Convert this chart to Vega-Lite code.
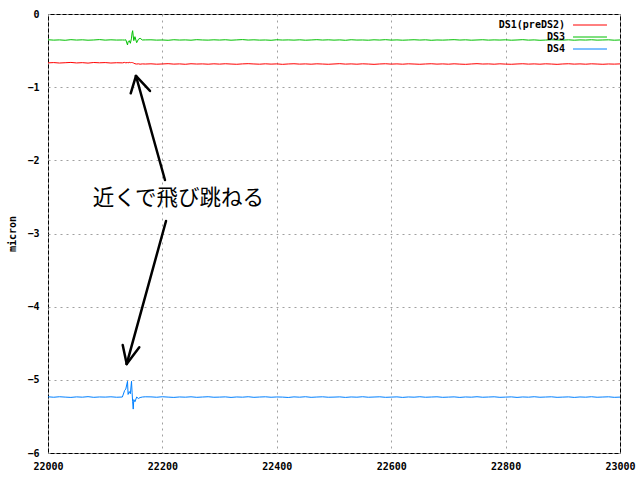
{
  "$schema": "https://vega.github.io/schema/vega-lite/v6.json",
  "width": 572,
  "height": 439,
  "autosize": {"type": "none"},
  "padding": {"left": 48, "top": 14, "right": 20, "bottom": 27},
  "background": "white",
  "config": {
    "view": {"stroke": "black", "strokeWidth": 1},
    "axis": {
      "labelFont": "DejaVu Sans Mono", "labelFontWeight": "bold", "labelFontSize": 10, "labelColor": "black",
      "titleFont": "DejaVu Sans Mono", "titleFontWeight": "bold", "titleFontSize": 10, "titleColor": "black",
      "gridColor": "#a0a0a0", "gridDash": [2, 4], "gridOpacity": 1, "gridWidth": 1,
      "domain": false, "ticks": false, "labelFlush": false, "labelOverlap": false, "labelBound": false
    }
  },
  "datasets": {
    "series": [
      {"x": 22000, "DS1(preDS2)": -0.668, "DS3": -0.352, "DS4": -5.232},
      {"x": 22010, "DS1(preDS2)": -0.664, "DS3": -0.357, "DS4": -5.238},
      {"x": 22020, "DS1(preDS2)": -0.670, "DS3": -0.354, "DS4": -5.231},
      {"x": 22030, "DS1(preDS2)": -0.666, "DS3": -0.359, "DS4": -5.236},
      {"x": 22040, "DS1(preDS2)": -0.662, "DS3": -0.351, "DS4": -5.240},
      {"x": 22050, "DS1(preDS2)": -0.669, "DS3": -0.356, "DS4": -5.233},
      {"x": 22060, "DS1(preDS2)": -0.665, "DS3": -0.353, "DS4": -5.237},
      {"x": 22070, "DS1(preDS2)": -0.671, "DS3": -0.358, "DS4": -5.230},
      {"x": 22080, "DS1(preDS2)": -0.663, "DS3": -0.355, "DS4": -5.239},
      {"x": 22090, "DS1(preDS2)": -0.667, "DS3": -0.350, "DS4": -5.234},
      {"x": 22100, "DS1(preDS2)": -0.664, "DS3": -0.357, "DS4": -5.236},
      {"x": 22110, "DS1(preDS2)": -0.670, "DS3": -0.353, "DS4": -5.232},
      {"x": 22120, "DS1(preDS2)": -0.666, "DS3": -0.356, "DS4": -5.238},
      {"x": 22130, "DS1(preDS2)": -0.668, "DS3": -0.355, "DS4": -5.235},
      {"x": 22134, "DS1(preDS2)": -0.662, "DS3": -0.356, "DS4": -5.145},
      {"x": 22136, "DS1(preDS2)": -0.667, "DS3": -0.352, "DS4": -5.126},
      {"x": 22139, "DS1(preDS2)": -0.664, "DS3": -0.423, "DS4": -5.02},
      {"x": 22140, "DS1(preDS2)": -0.668, "DS3": -0.38, "DS4": -5.20},
      {"x": 22142, "DS1(preDS2)": -0.661, "DS3": -0.364, "DS4": -5.16},
      {"x": 22144, "DS1(preDS2)": -0.665, "DS3": -0.40, "DS4": -5.19},
      {"x": 22146, "DS1(preDS2)": -0.663, "DS3": -0.33, "DS4": -5.02},
      {"x": 22147, "DS1(preDS2)": -0.667, "DS3": -0.26, "DS4": -5.17},
      {"x": 22148, "DS1(preDS2)": -0.664, "DS3": -0.228, "DS4": -5.30},
      {"x": 22149, "DS1(preDS2)": -0.668, "DS3": -0.30, "DS4": -5.40},
      {"x": 22150, "DS1(preDS2)": -0.672, "DS3": -0.364, "DS4": -5.27},
      {"x": 22152, "DS1(preDS2)": -0.680, "DS3": -0.31, "DS4": -5.30},
      {"x": 22155, "DS1(preDS2)": -0.684, "DS3": -0.392, "DS4": -5.235},
      {"x": 22158, "DS1(preDS2)": -0.681, "DS3": -0.346, "DS4": -5.255},
      {"x": 22161, "DS1(preDS2)": -0.686, "DS3": -0.332, "DS4": -5.242},
      {"x": 22165, "DS1(preDS2)": -0.682, "DS3": -0.355, "DS4": -5.235},
      {"x": 22170, "DS1(preDS2)": -0.684, "DS3": -0.354, "DS4": -5.232},
      {"x": 22180, "DS1(preDS2)": -0.681, "DS3": -0.353, "DS4": -5.233},
      {"x": 22190, "DS1(preDS2)": -0.686, "DS3": -0.357, "DS4": -5.238},
      {"x": 22200, "DS1(preDS2)": -0.683, "DS3": -0.355, "DS4": -5.231},
      {"x": 22210, "DS1(preDS2)": -0.679, "DS3": -0.359, "DS4": -5.236},
      {"x": 22220, "DS1(preDS2)": -0.685, "DS3": -0.352, "DS4": -5.240},
      {"x": 22230, "DS1(preDS2)": -0.682, "DS3": -0.356, "DS4": -5.234},
      {"x": 22240, "DS1(preDS2)": -0.687, "DS3": -0.354, "DS4": -5.237},
      {"x": 22250, "DS1(preDS2)": -0.680, "DS3": -0.358, "DS4": -5.232},
      {"x": 22260, "DS1(preDS2)": -0.684, "DS3": -0.351, "DS4": -5.239},
      {"x": 22270, "DS1(preDS2)": -0.682, "DS3": -0.355, "DS4": -5.235},
      {"x": 22280, "DS1(preDS2)": -0.686, "DS3": -0.357, "DS4": -5.231},
      {"x": 22290, "DS1(preDS2)": -0.681, "DS3": -0.353, "DS4": -5.238},
      {"x": 22300, "DS1(preDS2)": -0.685, "DS3": -0.356, "DS4": -5.236},
      {"x": 22310, "DS1(preDS2)": -0.680, "DS3": -0.352, "DS4": -5.233},
      {"x": 22320, "DS1(preDS2)": -0.684, "DS3": -0.358, "DS4": -5.240},
      {"x": 22330, "DS1(preDS2)": -0.687, "DS3": -0.354, "DS4": -5.234},
      {"x": 22340, "DS1(preDS2)": -0.682, "DS3": -0.350, "DS4": -5.237},
      {"x": 22350, "DS1(preDS2)": -0.679, "DS3": -0.356, "DS4": -5.231},
      {"x": 22360, "DS1(preDS2)": -0.683, "DS3": -0.353, "DS4": -5.239},
      {"x": 22370, "DS1(preDS2)": -0.686, "DS3": -0.357, "DS4": -5.235},
      {"x": 22380, "DS1(preDS2)": -0.681, "DS3": -0.355, "DS4": -5.232},
      {"x": 22390, "DS1(preDS2)": -0.685, "DS3": -0.359, "DS4": -5.238},
      {"x": 22400, "DS1(preDS2)": -0.682, "DS3": -0.352, "DS4": -5.234},
      {"x": 22410, "DS1(preDS2)": -0.688, "DS3": -0.356, "DS4": -5.236},
      {"x": 22420, "DS1(preDS2)": -0.683, "DS3": -0.354, "DS4": -5.241},
      {"x": 22430, "DS1(preDS2)": -0.680, "DS3": -0.357, "DS4": -5.233},
      {"x": 22440, "DS1(preDS2)": -0.685, "DS3": -0.353, "DS4": -5.237},
      {"x": 22450, "DS1(preDS2)": -0.682, "DS3": -0.358, "DS4": -5.231},
      {"x": 22460, "DS1(preDS2)": -0.686, "DS3": -0.355, "DS4": -5.239},
      {"x": 22470, "DS1(preDS2)": -0.681, "DS3": -0.351, "DS4": -5.235},
      {"x": 22480, "DS1(preDS2)": -0.684, "DS3": -0.356, "DS4": -5.232},
      {"x": 22490, "DS1(preDS2)": -0.687, "DS3": -0.353, "DS4": -5.238},
      {"x": 22500, "DS1(preDS2)": -0.683, "DS3": -0.357, "DS4": -5.236},
      {"x": 22510, "DS1(preDS2)": -0.679, "DS3": -0.354, "DS4": -5.233},
      {"x": 22520, "DS1(preDS2)": -0.685, "DS3": -0.359, "DS4": -5.240},
      {"x": 22530, "DS1(preDS2)": -0.682, "DS3": -0.352, "DS4": -5.234},
      {"x": 22540, "DS1(preDS2)": -0.686, "DS3": -0.356, "DS4": -5.237},
      {"x": 22550, "DS1(preDS2)": -0.681, "DS3": -0.355, "DS4": -5.231},
      {"x": 22560, "DS1(preDS2)": -0.684, "DS3": -0.358, "DS4": -5.238},
      {"x": 22570, "DS1(preDS2)": -0.688, "DS3": -0.353, "DS4": -5.235},
      {"x": 22580, "DS1(preDS2)": -0.683, "DS3": -0.356, "DS4": -5.232},
      {"x": 22590, "DS1(preDS2)": -0.680, "DS3": -0.351, "DS4": -5.239},
      {"x": 22600, "DS1(preDS2)": -0.685, "DS3": -0.357, "DS4": -5.236},
      {"x": 22610, "DS1(preDS2)": -0.682, "DS3": -0.354, "DS4": -5.233},
      {"x": 22620, "DS1(preDS2)": -0.686, "DS3": -0.358, "DS4": -5.240},
      {"x": 22630, "DS1(preDS2)": -0.681, "DS3": -0.355, "DS4": -5.234},
      {"x": 22640, "DS1(preDS2)": -0.684, "DS3": -0.352, "DS4": -5.237},
      {"x": 22650, "DS1(preDS2)": -0.687, "DS3": -0.356, "DS4": -5.231},
      {"x": 22660, "DS1(preDS2)": -0.683, "DS3": -0.353, "DS4": -5.238},
      {"x": 22670, "DS1(preDS2)": -0.680, "DS3": -0.359, "DS4": -5.235},
      {"x": 22680, "DS1(preDS2)": -0.685, "DS3": -0.355, "DS4": -5.232},
      {"x": 22690, "DS1(preDS2)": -0.682, "DS3": -0.357, "DS4": -5.239},
      {"x": 22700, "DS1(preDS2)": -0.686, "DS3": -0.354, "DS4": -5.236},
      {"x": 22710, "DS1(preDS2)": -0.681, "DS3": -0.351, "DS4": -5.233},
      {"x": 22720, "DS1(preDS2)": -0.685, "DS3": -0.356, "DS4": -5.240},
      {"x": 22730, "DS1(preDS2)": -0.688, "DS3": -0.353, "DS4": -5.234},
      {"x": 22740, "DS1(preDS2)": -0.683, "DS3": -0.358, "DS4": -5.237},
      {"x": 22750, "DS1(preDS2)": -0.679, "DS3": -0.355, "DS4": -5.231},
      {"x": 22760, "DS1(preDS2)": -0.684, "DS3": -0.352, "DS4": -5.238},
      {"x": 22770, "DS1(preDS2)": -0.682, "DS3": -0.357, "DS4": -5.235},
      {"x": 22780, "DS1(preDS2)": -0.686, "DS3": -0.354, "DS4": -5.232},
      {"x": 22790, "DS1(preDS2)": -0.681, "DS3": -0.356, "DS4": -5.239},
      {"x": 22800, "DS1(preDS2)": -0.685, "DS3": -0.353, "DS4": -5.236},
      {"x": 22810, "DS1(preDS2)": -0.687, "DS3": -0.358, "DS4": -5.233},
      {"x": 22820, "DS1(preDS2)": -0.683, "DS3": -0.355, "DS4": -5.240},
      {"x": 22830, "DS1(preDS2)": -0.680, "DS3": -0.351, "DS4": -5.234},
      {"x": 22840, "DS1(preDS2)": -0.685, "DS3": -0.357, "DS4": -5.237},
      {"x": 22850, "DS1(preDS2)": -0.682, "DS3": -0.354, "DS4": -5.231},
      {"x": 22860, "DS1(preDS2)": -0.686, "DS3": -0.359, "DS4": -5.238},
      {"x": 22870, "DS1(preDS2)": -0.681, "DS3": -0.356, "DS4": -5.235},
      {"x": 22880, "DS1(preDS2)": -0.684, "DS3": -0.352, "DS4": -5.232},
      {"x": 22890, "DS1(preDS2)": -0.688, "DS3": -0.355, "DS4": -5.239},
      {"x": 22900, "DS1(preDS2)": -0.683, "DS3": -0.357, "DS4": -5.236},
      {"x": 22910, "DS1(preDS2)": -0.680, "DS3": -0.353, "DS4": -5.233},
      {"x": 22920, "DS1(preDS2)": -0.685, "DS3": -0.358, "DS4": -5.240},
      {"x": 22930, "DS1(preDS2)": -0.682, "DS3": -0.354, "DS4": -5.234},
      {"x": 22940, "DS1(preDS2)": -0.686, "DS3": -0.356, "DS4": -5.237},
      {"x": 22950, "DS1(preDS2)": -0.681, "DS3": -0.352, "DS4": -5.231},
      {"x": 22960, "DS1(preDS2)": -0.684, "DS3": -0.357, "DS4": -5.238},
      {"x": 22970, "DS1(preDS2)": -0.687, "DS3": -0.355, "DS4": -5.235},
      {"x": 22980, "DS1(preDS2)": -0.683, "DS3": -0.353, "DS4": -5.232},
      {"x": 22990, "DS1(preDS2)": -0.685, "DS3": -0.358, "DS4": -5.239},
      {"x": 23000, "DS1(preDS2)": -0.682, "DS3": -0.355, "DS4": -5.236}
    ],
    "arrows": [
      {"x": 22204.5, "y": -2.269, "x2": 22153.8, "y2": -0.847},
      {"x": 22153.8, "y": -0.847, "x2": 22144.6, "y2": -1.084},
      {"x": 22153.8, "y": -0.847, "x2": 22178.3, "y2": -1.052},
      {"x": 22206.3, "y": -2.829, "x2": 22137.6, "y2": -4.783},
      {"x": 22137.6, "y": -4.783, "x2": 22130.6, "y2": -4.524},
      {"x": 22137.6, "y": -4.783, "x2": 22159.6, "y2": -4.555}
    ],
    "notes": [
      {"label": "近くで飛び跳ねる", "x": 22228, "y": -2.533}
    ]
  },
  "layer": [
    {
      "data": {"name": "series"},
      "transform": [{"fold": ["DS1(preDS2)", "DS3", "DS4"], "as": ["series", "value"]}],
      "mark": {"type": "line", "strokeWidth": 1},
      "encoding": {
        "x": {
          "field": "x", "type": "quantitative",
          "scale": {"domain": [22000, 23000], "nice": false, "zero": false},
          "axis": {"values": [22000, 22200, 22400, 22600, 22800, 23000], "title": null, "labelPadding": 8, "grid": true, "format": "d"}
        },
        "y": {
          "field": "value", "type": "quantitative",
          "scale": {"domain": [-6, 0], "nice": false},
          "axis": {"values": [-6, -5, -4, -3, -2, -1, 0], "title": "micron", "labelPadding": 9, "titlePadding": 9, "grid": true, "format": "d"}
        },
        "color": {
          "field": "series", "type": "nominal",
          "scale": {"domain": ["DS1(preDS2)", "DS3", "DS4"], "range": ["#ff0000", "#00c000", "#0080ff"]},
          "legend": {
            "orient": "none", "legendX": 537, "legendY": 6, "title": null,
            "symbolType": "M-4,0H4", "symbolSize": 72, "symbolStrokeWidth": 1,
            "rowPadding": 2,
            "labelAlign": "right", "labelOffset": -30,
            "labelFont": "DejaVu Sans Mono", "labelFontWeight": "bold", "labelFontSize": 10, "labelColor": "black",
            "padding": 0
          }
        }
      }
    },
    {
      "data": {"name": "arrows"},
      "mark": {"type": "rule", "color": "black", "strokeWidth": 2.5, "strokeCap": "round"},
      "encoding": {
        "x": {"field": "x", "type": "quantitative"},
        "y": {"field": "y", "type": "quantitative"},
        "x2": {"field": "x2"},
        "y2": {"field": "y2"}
      }
    },
    {
      "data": {"name": "notes"},
      "mark": {"type": "text", "font": "Noto Sans CJK JP", "fontSize": 21.5, "align": "center", "baseline": "middle", "color": "black"},
      "encoding": {
        "x": {"field": "x", "type": "quantitative"},
        "y": {"field": "y", "type": "quantitative"},
        "text": {"field": "label"}
      }
    }
  ]
}
